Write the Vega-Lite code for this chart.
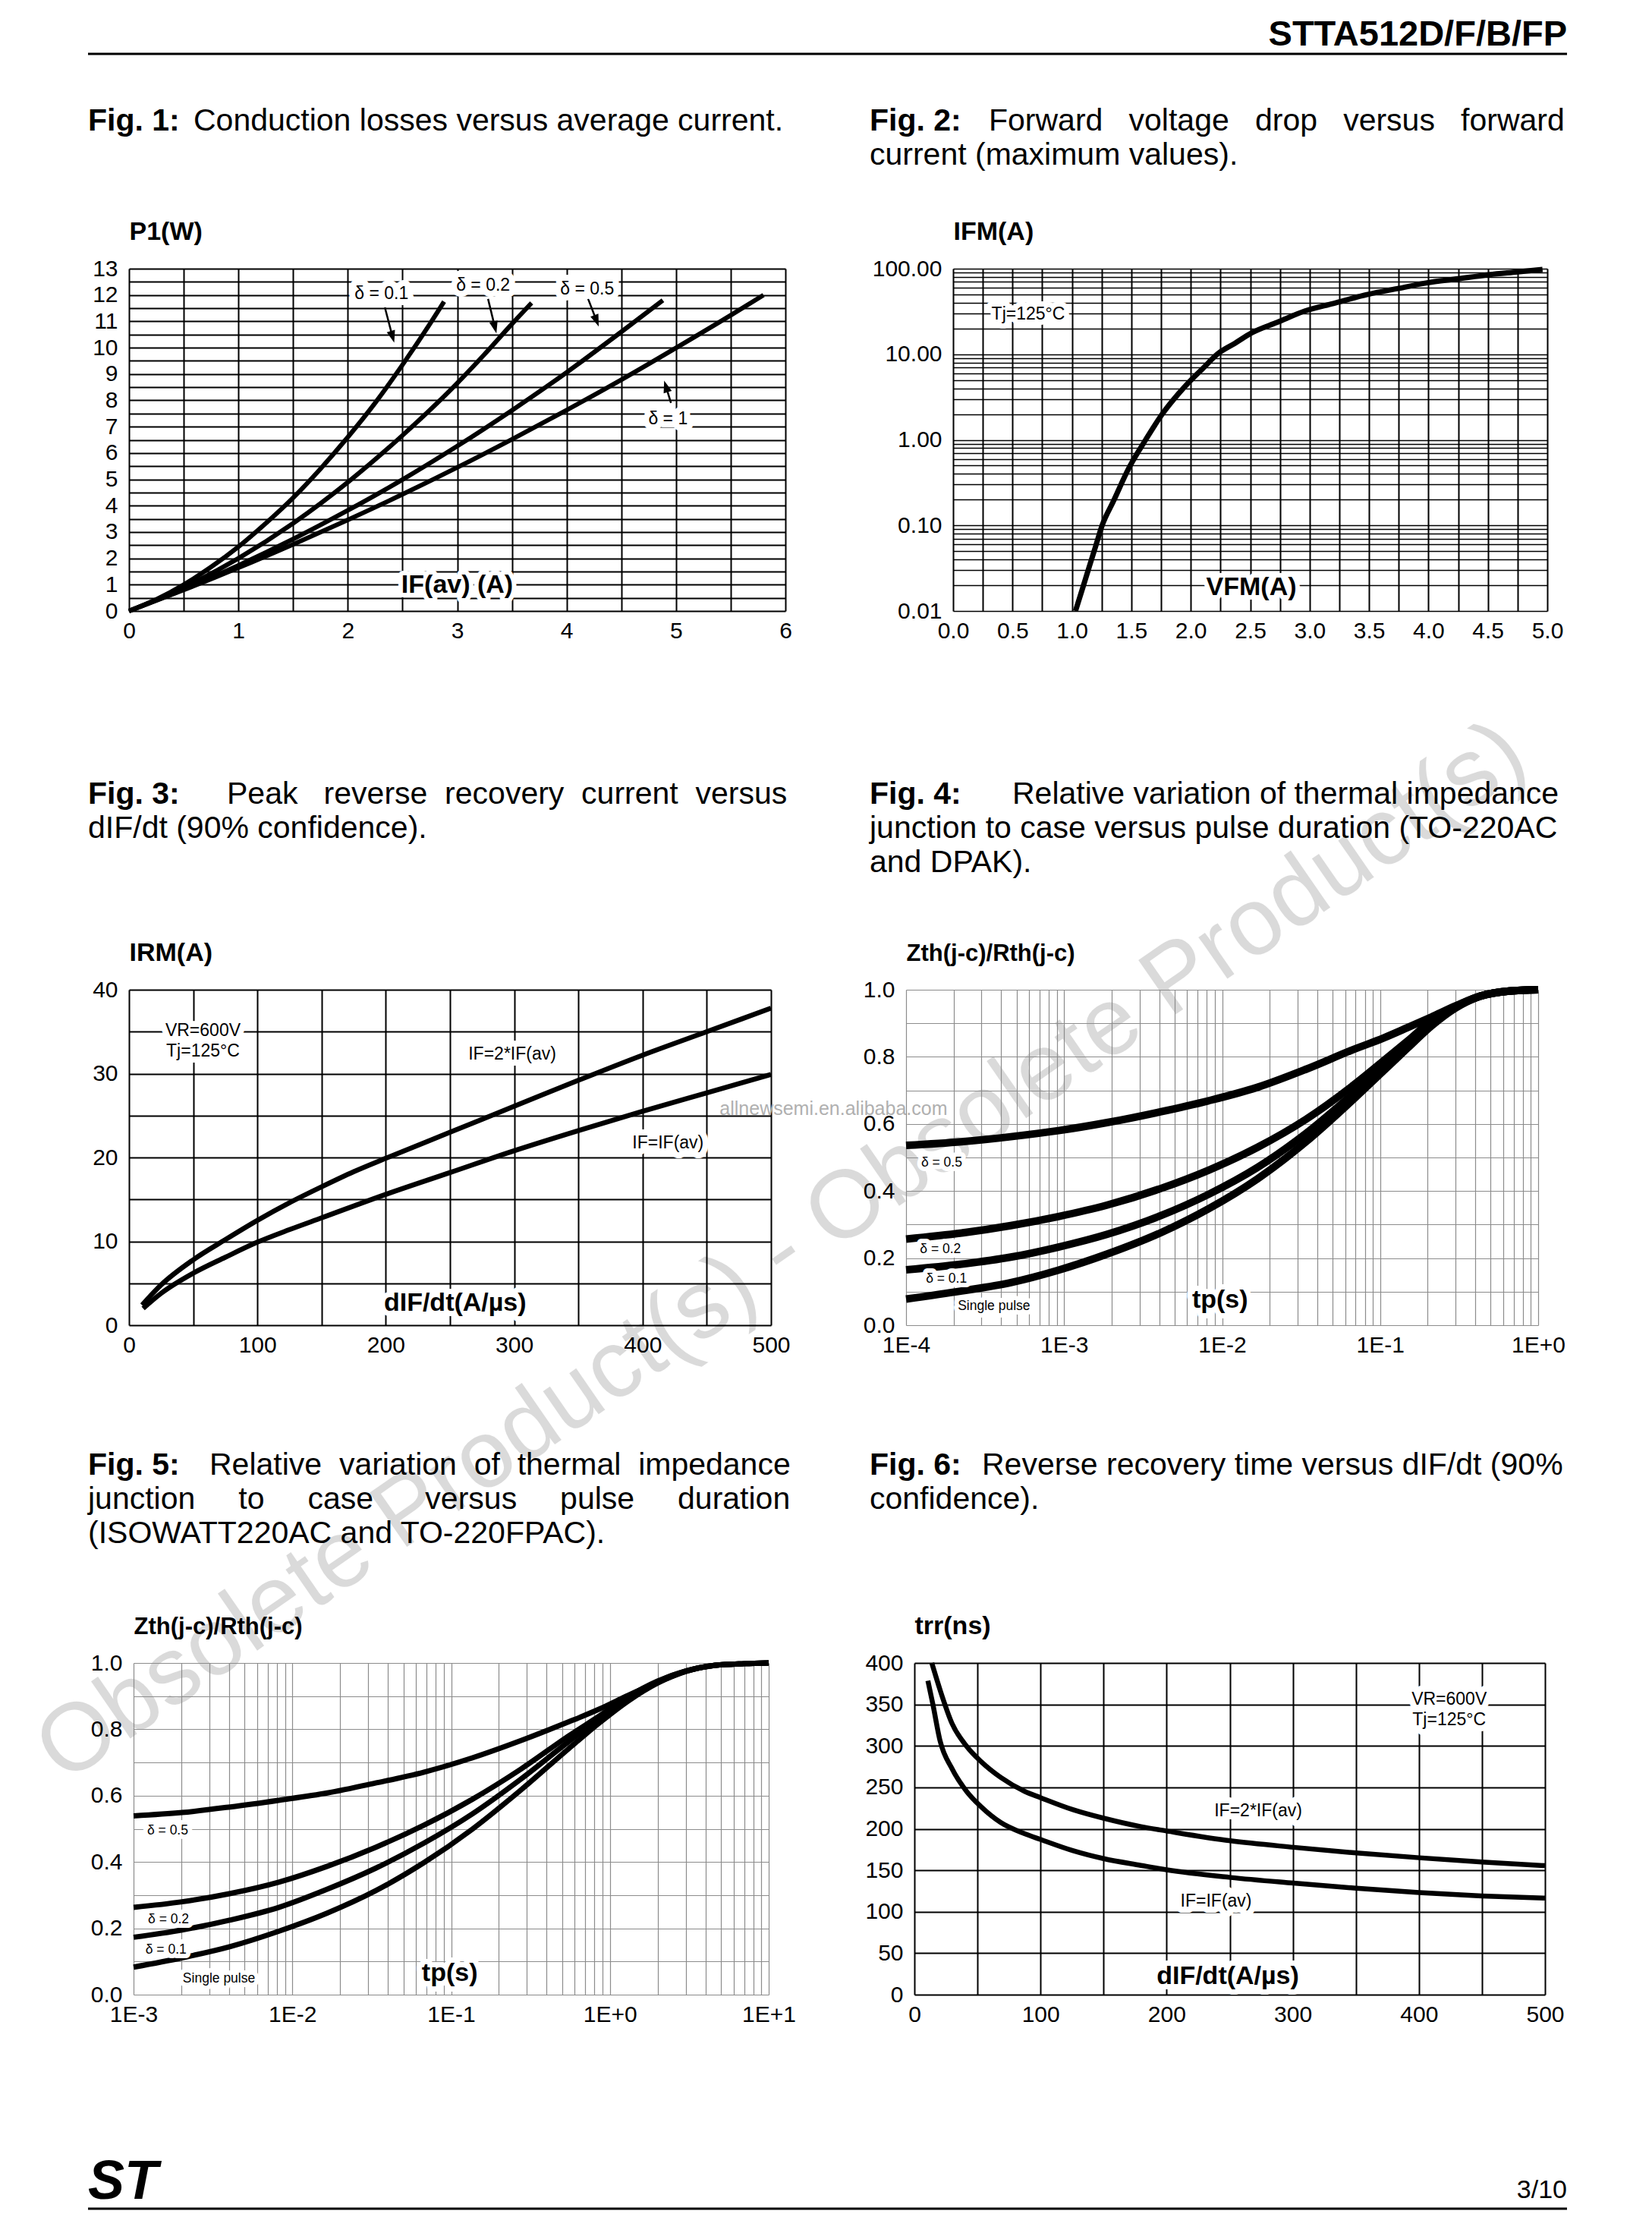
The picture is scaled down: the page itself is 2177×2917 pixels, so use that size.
{
"$schema": "https://vega.github.io/schema/vega-lite/v6.json",
"background": "white",
"padding": {"left": 26, "top": 0, "right": 0, "bottom": 0},
"columns": 4,
"spacing": 0,
"bounds": "flush",
"align": "each",
"config": {
  "font": "Liberation Sans",
  "view": {"stroke": null},
  "axis": {"ticks": false, "tickSize": 0, "domain": false, "grid": true, "gridColor": "black", "gridWidth": 2, "gridOpacity": 1, "labelFont": "Liberation Sans", "labelFontSize": 30, "labelColor": "black", "labelPadding": 11, "labelFlush": false, "labelOverlap": false, "labelBound": false, "titleFont": "Liberation Sans", "titleFontSize": 34, "titleFontWeight": "bold", "titleColor": "black"},
  "axisY": {"labelPadding": 15}
},
"datasets": {
  "f1curves": [
    {"d":"0.1","I":0,"P":0},{"d":"0.1","I":0.25,"P":0.44},{"d":"0.1","I":0.5,"P":1.0},{"d":"0.1","I":0.75,"P":1.67},{"d":"0.1","I":1,"P":2.44},{"d":"0.1","I":1.25,"P":3.33},{"d":"0.1","I":1.5,"P":4.3},{"d":"0.1","I":1.75,"P":5.4},{"d":"0.1","I":2,"P":6.6},{"d":"0.1","I":2.25,"P":7.9},{"d":"0.1","I":2.5,"P":9.35},{"d":"0.1","I":2.75,"P":10.9},{"d":"0.1","I":2.88,"P":11.75},
    {"d":"0.2","I":0,"P":0},{"d":"0.2","I":0.5,"P":0.89},{"d":"0.2","I":1,"P":2.0},{"d":"0.2","I":1.5,"P":3.33},{"d":"0.2","I":2,"P":4.89},{"d":"0.2","I":2.5,"P":6.67},{"d":"0.2","I":3,"P":8.65},{"d":"0.2","I":3.25,"P":9.75},{"d":"0.2","I":3.5,"P":10.9},{"d":"0.2","I":3.68,"P":11.7},
    {"d":"0.5","I":0,"P":0},{"d":"0.5","I":0.5,"P":0.82},{"d":"0.5","I":1,"P":1.73},{"d":"0.5","I":1.5,"P":2.73},{"d":"0.5","I":2,"P":3.82},{"d":"0.5","I":2.5,"P":4.99},{"d":"0.5","I":3,"P":6.26},{"d":"0.5","I":3.5,"P":7.62},{"d":"0.5","I":4,"P":9.06},{"d":"0.5","I":4.5,"P":10.6},{"d":"0.5","I":4.88,"P":11.8},
    {"d":"1","I":0,"P":0},{"d":"1","I":0.5,"P":0.8},{"d":"1","I":1,"P":1.64},{"d":"1","I":1.5,"P":2.53},{"d":"1","I":2,"P":3.46},{"d":"1","I":2.5,"P":4.43},{"d":"1","I":3,"P":5.45},{"d":"1","I":3.5,"P":6.52},{"d":"1","I":4,"P":7.63},{"d":"1","I":4.5,"P":8.78},{"d":"1","I":5,"P":9.99},{"d":"1","I":5.5,"P":11.23},{"d":"1","I":5.8,"P":12.0}
  ],
  "f1labels": [
    {"I":2.308,"P":12.06,"label":"δ = 0.1"},{"I":3.237,"P":12.36,"label":"δ = 0.2"},{"I":4.188,"P":12.22,"label":"δ = 0.5"},{"I":4.927,"P":7.28,"label":"δ = 1"}
  ],
  "f1arrows": [
    {"I":2.339,"P":11.53,"I2":2.409,"P2":10.41},{"I":3.282,"P":11.85,"I2":3.345,"P2":10.77},{"I":4.197,"P":11.85,"I2":4.274,"P2":11.02},{"I":4.954,"P":7.9,"I2":4.908,"P2":8.53}
  ],
  "f2curve": [
    {"V":1.03,"I":0.01},{"V":1.1,"I":0.0205},{"V":1.15,"I":0.0344},{"V":1.2,"I":0.0574},{"V":1.254,"I":0.1},{"V":1.35,"I":0.193},{"V":1.48,"I":0.47},{"V":1.62,"I":1.0},{"V":1.76,"I":2.0},{"V":1.9,"I":3.5},{"V":1.99,"I":4.8},{"V":2.1,"I":6.8},{"V":2.23,"I":10.2},{"V":2.37,"I":13.4},{"V":2.52,"I":18},{"V":2.73,"I":23.7},{"V":2.96,"I":32},{"V":3.2,"I":39.2},{"V":3.49,"I":50},{"V":3.75,"I":58.9},{"V":3.98,"I":68},{"V":4.25,"I":76.2},{"V":4.51,"I":85},{"V":4.75,"I":91.6},{"V":4.96,"I":98}
  ],
  "f3curves": [
    {"c":"2IF","D":10.2,"I":2.4},{"c":"2IF","D":25,"I":4.8},{"c":"2IF","D":50,"I":7.8},{"c":"2IF","D":75,"I":10.2},{"c":"2IF","D":100,"I":12.5},{"c":"2IF","D":125,"I":14.6},{"c":"2IF","D":150,"I":16.5},{"c":"2IF","D":175,"I":18.3},{"c":"2IF","D":200,"I":19.9},{"c":"2IF","D":250,"I":23.0},{"c":"2IF","D":300,"I":26.1},{"c":"2IF","D":350,"I":29.2},{"c":"2IF","D":400,"I":32.2},{"c":"2IF","D":450,"I":35.0},{"c":"2IF","D":500,"I":37.8},
    {"c":"IF","D":11,"I":2.0},{"c":"IF","D":25,"I":3.8},{"c":"IF","D":50,"I":6.2},{"c":"IF","D":75,"I":8.1},{"c":"IF","D":100,"I":9.9},{"c":"IF","D":125,"I":11.4},{"c":"IF","D":150,"I":12.8},{"c":"IF","D":200,"I":15.6},{"c":"IF","D":250,"I":18.2},{"c":"IF","D":300,"I":20.8},{"c":"IF","D":350,"I":23.2},{"c":"IF","D":400,"I":25.5},{"c":"IF","D":450,"I":27.7},{"c":"IF","D":500,"I":29.9}
  ],
  "f3labels": [
    {"D":57.6,"I":35.15,"label":"VR=600V"},{"D":57.6,"I":32.7,"label":"Tj=125°C"},{"D":298.5,"I":32.3,"label":"IF=2*IF(av)"},{"D":419.8,"I":21.75,"label":"IF=IF(av)"}
  ],
  "f4curves": [
    {"s":"d05","t":0.0001,"z":0.536},{"s":"d05","t":0.000225,"z":0.547},{"s":"d05","t":0.00046,"z":0.562},{"s":"d05","t":0.00092,"z":0.58},{"s":"d05","t":0.00187,"z":0.604},{"s":"d05","t":0.00406,"z":0.636},{"s":"d05","t":0.0082,"z":0.669},{"s":"d05","t":0.0167,"z":0.709},{"s":"d05","t":0.034,"z":0.763},{"s":"d05","t":0.068,"z":0.822},{"s":"d05","t":0.105,"z":0.856},{"s":"d05","t":0.149,"z":0.887},{"s":"d05","t":0.212,"z":0.919},{"s":"d05","t":0.301,"z":0.952},{"s":"d05","t":0.43,"z":0.981},{"s":"d05","t":0.655,"z":0.996},{"s":"d05","t":1,"z":1.0},
    {"s":"d02","t":0.0001,"z":0.257},{"s":"d02","t":0.000225,"z":0.275},{"s":"d02","t":0.00046,"z":0.297},{"s":"d02","t":0.00092,"z":0.324},{"s":"d02","t":0.00187,"z":0.358},{"s":"d02","t":0.00406,"z":0.407},{"s":"d02","t":0.0082,"z":0.462},{"s":"d02","t":0.0167,"z":0.53},{"s":"d02","t":0.034,"z":0.614},{"s":"d02","t":0.068,"z":0.716},{"s":"d02","t":0.105,"z":0.788},{"s":"d02","t":0.149,"z":0.847},{"s":"d02","t":0.212,"z":0.908},{"s":"d02","t":0.301,"z":0.95},{"s":"d02","t":0.43,"z":0.981},{"s":"d02","t":0.655,"z":0.996},{"s":"d02","t":1,"z":1.0},
    {"s":"d01","t":0.0001,"z":0.165},{"s":"d01","t":0.000225,"z":0.182},{"s":"d01","t":0.00046,"z":0.203},{"s":"d01","t":0.00092,"z":0.233},{"s":"d01","t":0.00187,"z":0.271},{"s":"d01","t":0.00406,"z":0.326},{"s":"d01","t":0.0082,"z":0.39},{"s":"d01","t":0.0167,"z":0.47},{"s":"d01","t":0.034,"z":0.572},{"s":"d01","t":0.068,"z":0.691},{"s":"d01","t":0.105,"z":0.767},{"s":"d01","t":0.149,"z":0.835},{"s":"d01","t":0.212,"z":0.9},{"s":"d01","t":0.301,"z":0.948},{"s":"d01","t":0.43,"z":0.981},{"s":"d01","t":0.655,"z":0.996},{"s":"d01","t":1,"z":1.0},
    {"s":"sp","t":0.0001,"z":0.078},{"s":"sp","t":0.000225,"z":0.102},{"s":"sp","t":0.00046,"z":0.127},{"s":"sp","t":0.00092,"z":0.164},{"s":"sp","t":0.00187,"z":0.212},{"s":"sp","t":0.00406,"z":0.275},{"s":"sp","t":0.0082,"z":0.347},{"s":"sp","t":0.0167,"z":0.436},{"s":"sp","t":0.034,"z":0.547},{"s":"sp","t":0.068,"z":0.674},{"s":"sp","t":0.105,"z":0.758},{"s":"sp","t":0.149,"z":0.826},{"s":"sp","t":0.212,"z":0.893},{"s":"sp","t":0.301,"z":0.946},{"s":"sp","t":0.43,"z":0.981},{"s":"sp","t":0.655,"z":0.996},{"s":"sp","t":1,"z":1.0}
  ],
  "f4labels": [
    {"t":0.000168,"z":0.484,"label":"δ = 0.5"},{"t":0.000165,"z":0.227,"label":"δ = 0.2"},{"t":0.00018,"z":0.138,"label":"δ = 0.1"},{"t":0.00036,"z":0.057,"label":"Single pulse"}
  ],
  "f5curves": [
    {"s":"d05","t":0.001,"z":0.539},{"s":"d05","t":0.00202,"z":0.549},{"s":"d05","t":0.00407,"z":0.566},{"s":"d05","t":0.0082,"z":0.586},{"s":"d05","t":0.0166,"z":0.608},{"s":"d05","t":0.0334,"z":0.638},{"s":"d05","t":0.0675,"z":0.671},{"s":"d05","t":0.136,"z":0.714},{"s":"d05","t":0.275,"z":0.766},{"s":"d05","t":0.554,"z":0.823},{"s":"d05","t":0.857,"z":0.861},{"s":"d05","t":1.31,"z":0.903},{"s":"d05","t":1.99,"z":0.941},{"s":"d05","t":3.03,"z":0.975},{"s":"d05","t":4.62,"z":0.993},{"s":"d05","t":7.04,"z":0.998},{"s":"d05","t":10,"z":1.0},
    {"s":"d02","t":0.001,"z":0.263},{"s":"d02","t":0.00202,"z":0.28},{"s":"d02","t":0.00407,"z":0.305},{"s":"d02","t":0.0082,"z":0.339},{"s":"d02","t":0.0166,"z":0.387},{"s":"d02","t":0.0334,"z":0.444},{"s":"d02","t":0.0675,"z":0.511},{"s":"d02","t":0.136,"z":0.589},{"s":"d02","t":0.275,"z":0.68},{"s":"d02","t":0.554,"z":0.781},{"s":"d02","t":0.857,"z":0.84},{"s":"d02","t":1.31,"z":0.899},{"s":"d02","t":1.99,"z":0.945},{"s":"d02","t":3.03,"z":0.976},{"s":"d02","t":4.62,"z":0.993},{"s":"d02","t":7.04,"z":0.998},{"s":"d02","t":10,"z":1.0},
    {"s":"d01","t":0.001,"z":0.173},{"s":"d01","t":0.00202,"z":0.195},{"s":"d01","t":0.00407,"z":0.225},{"s":"d01","t":0.0082,"z":0.263},{"s":"d01","t":0.0166,"z":0.318},{"s":"d01","t":0.0334,"z":0.381},{"s":"d01","t":0.0675,"z":0.457},{"s":"d01","t":0.136,"z":0.545},{"s":"d01","t":0.275,"z":0.65},{"s":"d01","t":0.554,"z":0.764},{"s":"d01","t":0.857,"z":0.832},{"s":"d01","t":1.31,"z":0.892},{"s":"d01","t":1.99,"z":0.943},{"s":"d01","t":3.03,"z":0.976},{"s":"d01","t":4.62,"z":0.993},{"s":"d01","t":7.04,"z":0.998},{"s":"d01","t":10,"z":1.0},
    {"s":"sp","t":0.001,"z":0.083},{"s":"sp","t":0.00202,"z":0.111},{"s":"sp","t":0.00407,"z":0.145},{"s":"sp","t":0.0082,"z":0.191},{"s":"sp","t":0.0166,"z":0.246},{"s":"sp","t":0.0334,"z":0.313},{"s":"sp","t":0.0675,"z":0.398},{"s":"sp","t":0.136,"z":0.499},{"s":"sp","t":0.275,"z":0.617},{"s":"sp","t":0.554,"z":0.743},{"s":"sp","t":0.857,"z":0.819},{"s":"sp","t":1.31,"z":0.886},{"s":"sp","t":1.99,"z":0.939},{"s":"sp","t":3.03,"z":0.975},{"s":"sp","t":4.62,"z":0.993},{"s":"sp","t":7.04,"z":0.998},{"s":"sp","t":10,"z":1.0}
  ],
  "f5labels": [
    {"t":0.00164,"z":0.494,"label":"δ = 0.5"},{"t":0.00166,"z":0.227,"label":"δ = 0.2"},{"t":0.0016,"z":0.136,"label":"δ = 0.1"},{"t":0.00345,"z":0.049,"label":"Single pulse"}
  ],
  "f6curves": [
    {"c":"2IF","D":13.8,"T":400},{"c":"2IF","D":20.3,"T":367.7},{"c":"2IF","D":29.9,"T":326.8},{"c":"2IF","D":41.4,"T":299.6},{"c":"2IF","D":53,"T":280.9},{"c":"2IF","D":68.3,"T":262.1},{"c":"2IF","D":87.5,"T":245.1},{"c":"2IF","D":100,"T":237.6},{"c":"2IF","D":125.9,"T":223},{"c":"2IF","D":150,"T":212.8},{"c":"2IF","D":179.6,"T":202.6},{"c":"2IF","D":200,"T":197.4},{"c":"2IF","D":250.6,"T":185.5},{"c":"2IF","D":300.5,"T":177.7},{"c":"2IF","D":350.3,"T":170.9},{"c":"2IF","D":400.2,"T":165.1},{"c":"2IF","D":450,"T":160},{"c":"2IF","D":500,"T":155.6},
    {"c":"IF","D":10.7,"T":378.6},{"c":"IF","D":14.6,"T":350.6},{"c":"IF","D":20.3,"T":306.4},{"c":"IF","D":29.9,"T":272.3},{"c":"IF","D":41.4,"T":245.1},{"c":"IF","D":53,"T":226.4},{"c":"IF","D":68.3,"T":207.7},{"c":"IF","D":87.5,"T":194},{"c":"IF","D":100,"T":187.2},{"c":"IF","D":125.9,"T":173.6},{"c":"IF","D":150,"T":164.1},{"c":"IF","D":179.6,"T":155.9},{"c":"IF","D":200,"T":150.5},{"c":"IF","D":250.6,"T":141.3},{"c":"IF","D":300.5,"T":134.5},{"c":"IF","D":350.3,"T":128.3},{"c":"IF","D":400.2,"T":123.2},{"c":"IF","D":450,"T":119.1},{"c":"IF","D":500,"T":116.4}
  ],
  "f6labels": [
    {"D":424,"T":356.5,"label":"VR=600V"},{"D":424,"T":331.4,"label":"Tj=125°C"},{"D":272.6,"T":221.1,"label":"IF=2*IF(av)"},{"D":239.2,"T":112.8,"label":"IF=IF(av)"}
  ]
},
"concat": [
  {"width": 54, "height": 71, "layer": [
    {"data": {"values": [{"a": 0, "b": 1}]}, "mark": {"type": "rule", "color": "black", "strokeWidth": 3}, "encoding": {"x": {"field": "a", "type": "quantitative", "scale": {"domain": [0, 1], "range": [0, 1949]}, "axis": null}, "x2": {"field": "b"}, "y": {"datum": 0, "type": "quantitative", "scale": {"domain": [0, 1]}, "axis": null}}},
    {"data": {"values": [{"t": "STTA512D/F/B/FP"}]}, "mark": {"type": "text", "align": "right", "baseline": "alphabetic", "fontSize": 47, "fontWeight": "bold", "color": "black", "dy": -11}, "encoding": {"x": {"datum": 1, "type": "quantitative", "scale": {"domain": [0, 1], "range": [0, 1949]}, "axis": null}, "y": {"datum": 0, "type": "quantitative", "scale": {"domain": [0, 1]}, "axis": null}, "text": {"field": "t"}}}
  ]},
  {"width": 865, "height": 71, "data": {"values": []}, "mark": "point", "encoding": {}},
  {"width": 159, "height": 71, "data": {"values": []}, "mark": "point", "encoding": {}},
  {"width": 845, "height": 71, "data": {"values": []}, "mark": "point", "encoding": {}},

  {"width": 54, "height": 67, "data": {"values": []}, "mark": "point", "encoding": {}},
  {"width": 865, "height": 67, "data": {"values": []}, "mark": "point", "encoding": {}},
  {"width": 159, "height": 67, "data": {"values": []}, "mark": "point", "encoding": {}},
  {"width": 845, "height": 67, "data": {"values": []}, "mark": "point", "encoding": {}},

  {"width": 54, "height": 134, "layer": [
    {"data": {"values": [{"line": 1, "text": "Fig. 1:"}]}, "mark": {"type": "text", "align": "left", "baseline": "middle", "fontSize": 41, "fontWeight": "bold", "color": "black"}, "encoding": {"x": {"datum": 0, "type": "quantitative", "scale": {"domain": [0, 1]}, "axis": null}, "y": {"field": "line", "type": "ordinal", "scale": {"domain": [1, 2, 3]}, "axis": null}, "text": {"field": "text"}}},
    {"data": {"values": [{"line": 1, "text": "Conduction losses versus average current."}]}, "mark": {"type": "text", "align": "left", "baseline": "middle", "fontSize": 41, "color": "black", "dx": 139}, "encoding": {"x": {"datum": 0, "type": "quantitative", "scale": {"domain": [0, 1]}, "axis": null}, "y": {"field": "line", "type": "ordinal", "scale": {"domain": [1, 2, 3]}, "axis": null}, "text": {"field": "text"}}}
  ]},
  {"width": 865, "height": 134, "data": {"values": []}, "mark": "point", "encoding": {}},
  {"width": 159, "height": 134, "layer": [
    {"data": {"values": [{"line": 1, "text": "Fig. 2:"}]}, "mark": {"type": "text", "align": "left", "baseline": "middle", "fontSize": 41, "fontWeight": "bold", "color": "black", "dx": 111}, "encoding": {"x": {"datum": 0, "type": "quantitative", "scale": {"domain": [0, 1]}, "axis": null}, "y": {"field": "line", "type": "ordinal", "scale": {"domain": [1, 2, 3]}, "axis": null}, "text": {"field": "text"}}},
    {"data": {"values": [{"line": 1, "text": "Forward \u00a0\u00a0voltage \u00a0\u00a0drop \u00a0\u00a0versus \u00a0\u00a0forward"}]}, "mark": {"type": "text", "align": "left", "baseline": "middle", "fontSize": 41, "color": "black", "dx": 268}, "encoding": {"x": {"datum": 0, "type": "quantitative", "scale": {"domain": [0, 1]}, "axis": null}, "y": {"field": "line", "type": "ordinal", "scale": {"domain": [1, 2, 3]}, "axis": null}, "text": {"field": "text"}}},
    {"data": {"values": [{"line": 2, "text": "current (maximum values)."}]}, "mark": {"type": "text", "align": "left", "baseline": "middle", "fontSize": 41, "color": "black", "dx": 111}, "encoding": {"x": {"datum": 0, "type": "quantitative", "scale": {"domain": [0, 1]}, "axis": null}, "y": {"field": "line", "type": "ordinal", "scale": {"domain": [1, 2, 3]}, "axis": null}, "text": {"field": "text"}}}
  ]},
  {"width": 845, "height": 134, "data": {"values": []}, "mark": "point", "encoding": {}},

  {"width": 54, "height": 82, "data": {"values": []}, "mark": "point", "encoding": {}},
  {"width": 865, "height": 82, "data": {"values": []}, "mark": "point", "encoding": {}},
  {"width": 159, "height": 82, "data": {"values": []}, "mark": "point", "encoding": {}},
  {"width": 845, "height": 82, "data": {"values": []}, "mark": "point", "encoding": {}},

  {"width": 54, "height": 451, "data": {"values": []}, "mark": "point", "encoding": {}},
  {"width": 865, "height": 451,
   "resolve": {"axis": {"x": "independent", "y": "independent"}},
   "layer": [
    {"data": {"name": "f1curves"}, "mark": {"type": "line", "color": "black", "strokeWidth": 6, "interpolate": "monotone"},
     "encoding": {
       "x": {"field": "I", "type": "quantitative", "scale": {"domain": [0, 6], "nice": false, "zero": false}, "axis": {"values": [0,0.5,1,1.5,2,2.5,3,3.5,4,4.5,5,5.5,6], "labelExpr": "round(datum.value*2) % 2 == 0 ? format(datum.value, 'd') : ''", "labelOverlap": false, "title": null, "zindex": 0}},
       "y": {"field": "P", "type": "quantitative", "scale": {"domain": [0, 13], "nice": false, "zero": false}, "axis": {"values": [0,0.5,1,1.5,2,2.5,3,3.5,4,4.5,5,5.5,6,6.5,7,7.5,8,8.5,9,9.5,10,10.5,11,11.5,12,12.5,13], "labelExpr": "round(datum.value*2) % 2 == 0 ? format(datum.value, 'd') : ''", "labelOverlap": false, "title": "P1(W)", "titleAngle": 0, "titleAlign": "left", "titleBaseline": "alphabetic", "titleX": 0, "titleY": -39, "zindex": 0}},
       "detail": {"field": "d"}}},
    {"data": {"name": "f1arrows"}, "mark": {"type": "rule", "color": "black", "strokeWidth": 2.5},
     "encoding": {"x": {"field": "I", "type": "quantitative", "scale": {"domain": [0, 6], "nice": false, "zero": false}, "axis": null}, "y": {"field": "P", "type": "quantitative", "scale": {"domain": [0, 13], "nice": false, "zero": false}, "axis": null}, "x2": {"field": "I2"}, "y2": {"field": "P2"}}},
    {"data": {"values": [{"I": 2.409, "P": 10.41}]}, "mark": {"type": "point", "shape": "M-0.7,-1L0.7,-1L0,1Z", "filled": true, "color": "black", "opacity": 1, "size": 256, "angle": 344},
     "encoding": {"x": {"field": "I", "type": "quantitative", "scale": {"domain": [0, 6], "nice": false, "zero": false}, "axis": null}, "y": {"field": "P", "type": "quantitative", "scale": {"domain": [0, 13], "nice": false, "zero": false}, "axis": null}}},
    {"data": {"values": [{"I": 3.345, "P": 10.77}]}, "mark": {"type": "point", "shape": "M-0.7,-1L0.7,-1L0,1Z", "filled": true, "color": "black", "opacity": 1, "size": 256, "angle": 346},
     "encoding": {"x": {"field": "I", "type": "quantitative", "scale": {"domain": [0, 6], "nice": false, "zero": false}, "axis": null}, "y": {"field": "P", "type": "quantitative", "scale": {"domain": [0, 13], "nice": false, "zero": false}, "axis": null}}},
    {"data": {"values": [{"I": 4.274, "P": 11.02}]}, "mark": {"type": "point", "shape": "M-0.7,-1L0.7,-1L0,1Z", "filled": true, "color": "black", "opacity": 1, "size": 256, "angle": 339},
     "encoding": {"x": {"field": "I", "type": "quantitative", "scale": {"domain": [0, 6], "nice": false, "zero": false}, "axis": null}, "y": {"field": "P", "type": "quantitative", "scale": {"domain": [0, 13], "nice": false, "zero": false}, "axis": null}}},
    {"data": {"values": [{"I": 4.908, "P": 8.53}]}, "mark": {"type": "point", "shape": "M-0.7,-1L0.7,-1L0,1Z", "filled": true, "color": "black", "opacity": 1, "size": 256, "angle": 163},
     "encoding": {"x": {"field": "I", "type": "quantitative", "scale": {"domain": [0, 6], "nice": false, "zero": false}, "axis": null}, "y": {"field": "P", "type": "quantitative", "scale": {"domain": [0, 13], "nice": false, "zero": false}, "axis": null}}},
    {"data": {"name": "f1labels"}, "mark": {"type": "text", "align": "center", "baseline": "middle", "fontSize": 23, "color": "white", "stroke": "white", "strokeWidth": 16, "strokeJoin": "round"},
     "encoding": {"x": {"field": "I", "type": "quantitative", "scale": {"domain": [0, 6], "nice": false, "zero": false}, "axis": null}, "y": {"field": "P", "type": "quantitative", "scale": {"domain": [0, 13], "nice": false, "zero": false}, "axis": null}, "text": {"field": "label"}}},
    {"data": {"name": "f1labels"}, "mark": {"type": "text", "align": "center", "baseline": "middle", "fontSize": 23, "color": "black"},
     "encoding": {"x": {"field": "I", "type": "quantitative", "scale": {"domain": [0, 6], "nice": false, "zero": false}, "axis": null}, "y": {"field": "P", "type": "quantitative", "scale": {"domain": [0, 13], "nice": false, "zero": false}, "axis": null}, "text": {"field": "label"}}},
    {"data": {"values": [{"I": 3.0, "P": 0.99, "label": "IF(av) (A)"}]}, "mark": {"type": "text", "align": "center", "baseline": "middle", "fontSize": 34, "fontWeight": "bold", "color": "white", "stroke": "white", "strokeWidth": 12, "strokeJoin": "round"},
     "encoding": {"x": {"field": "I", "type": "quantitative", "scale": {"domain": [0, 6], "nice": false, "zero": false}, "axis": null}, "y": {"field": "P", "type": "quantitative", "scale": {"domain": [0, 13], "nice": false, "zero": false}, "axis": null}, "text": {"field": "label"}}},
    {"data": {"values": [{"I": 3.0, "P": 0.99, "label": "IF(av) (A)"}]}, "mark": {"type": "text", "align": "center", "baseline": "middle", "fontSize": 34, "fontWeight": "bold", "color": "black"},
     "encoding": {"x": {"field": "I", "type": "quantitative", "scale": {"domain": [0, 6], "nice": false, "zero": false}, "axis": null}, "y": {"field": "P", "type": "quantitative", "scale": {"domain": [0, 13], "nice": false, "zero": false}, "axis": null}, "text": {"field": "label"}}}
  ]},
  {"width": 159, "height": 451, "data": {"values": []}, "mark": "point", "encoding": {}},
  {"width": 845, "height": 451, "layer": [
    {"data": {"name": "f2curve"}, "mark": {"type": "line", "color": "black", "strokeWidth": 7, "interpolate": "monotone"},
     "encoding": {
       "x": {"field": "V", "type": "quantitative", "scale": {"domain": [0, 5], "nice": false, "zero": false, "range": [62, 845]}, "axis": {"values": [0,0.25,0.5,0.75,1,1.25,1.5,1.75,2,2.25,2.5,2.75,3,3.25,3.5,3.75,4,4.25,4.5,4.75,5], "labelExpr": "round(datum.value*4) % 2 == 0 ? format(datum.value, '.1f') : ''", "labelOverlap": false, "title": null}},
       "y": {"field": "I", "type": "quantitative", "scale": {"type": "log", "domain": [0.01, 100], "nice": false}, "axis": {"values": [0.01,0.02,0.03,0.04,0.05,0.06,0.07,0.08,0.09,0.1,0.2,0.3,0.4,0.5,0.6,0.7,0.8,0.9,1,2,3,4,5,6,7,8,9,10,20,30,40,50,60,70,80,90,100], "labelExpr": "abs(log(datum.value)/LN10 - round(log(datum.value)/LN10)) < 0.001 ? format(datum.value, '.2f') : ''", "labelOverlap": false, "labelPadding": -47, "title": "IFM(A)", "titleAngle": 0, "titleAlign": "left", "titleBaseline": "alphabetic", "titleX": 62, "titleY": -39, "gridWidth": 1.6}}}},
    {"data": {"values": [{"V": 0.632, "I": 29.2, "label": "Tj=125°C"}]}, "mark": {"type": "text", "align": "center", "baseline": "middle", "fontSize": 23, "color": "white", "stroke": "white", "strokeWidth": 14, "strokeJoin": "round"},
     "encoding": {"x": {"field": "V", "type": "quantitative", "scale": {"domain": [0, 5], "nice": false, "zero": false, "range": [62, 845]}}, "y": {"field": "I", "type": "quantitative", "scale": {"type": "log", "domain": [0.01, 100], "nice": false}}, "text": {"field": "label"}}},
    {"data": {"values": [{"V": 0.632, "I": 29.2, "label": "Tj=125°C"}]}, "mark": {"type": "text", "align": "center", "baseline": "middle", "fontSize": 23, "color": "black"},
     "encoding": {"x": {"field": "V", "type": "quantitative", "scale": {"domain": [0, 5], "nice": false, "zero": false, "range": [62, 845]}}, "y": {"field": "I", "type": "quantitative", "scale": {"type": "log", "domain": [0.01, 100], "nice": false}}, "text": {"field": "label"}}},
    {"data": {"values": [{"V": 2.51, "I": 0.019, "label": "VFM(A)"}]}, "mark": {"type": "text", "align": "center", "baseline": "middle", "fontSize": 34, "fontWeight": "bold", "color": "white", "stroke": "white", "strokeWidth": 12, "strokeJoin": "round"},
     "encoding": {"x": {"field": "V", "type": "quantitative", "scale": {"domain": [0, 5], "nice": false, "zero": false, "range": [62, 845]}}, "y": {"field": "I", "type": "quantitative", "scale": {"type": "log", "domain": [0.01, 100], "nice": false}}, "text": {"field": "label"}}},
    {"data": {"values": [{"V": 2.51, "I": 0.019, "label": "VFM(A)"}]}, "mark": {"type": "text", "align": "center", "baseline": "middle", "fontSize": 34, "fontWeight": "bold", "color": "black"},
     "encoding": {"x": {"field": "V", "type": "quantitative", "scale": {"domain": [0, 5], "nice": false, "zero": false, "range": [62, 845]}}, "y": {"field": "I", "type": "quantitative", "scale": {"type": "log", "domain": [0.01, 100], "nice": false}}, "text": {"field": "label"}}}
  ]},

  {"width": 54, "height": 220, "data": {"values": []}, "mark": "point", "encoding": {}},
  {"width": 865, "height": 220, "data": {"values": []}, "mark": "point", "encoding": {}},
  {"width": 159, "height": 220, "data": {"values": []}, "mark": "point", "encoding": {}},
  {"width": 845, "height": 220, "data": {"values": []}, "mark": "point", "encoding": {}},

  {"width": 54, "height": 134, "layer": [
    {"data": {"values": [{"line": 1, "text": "Fig. 3:"}]}, "mark": {"type": "text", "align": "left", "baseline": "middle", "fontSize": 41, "fontWeight": "bold", "color": "black"}, "encoding": {"x": {"datum": 0, "type": "quantitative", "scale": {"domain": [0, 1]}, "axis": null}, "y": {"field": "line", "type": "ordinal", "scale": {"domain": [1, 2, 3]}, "axis": null}, "text": {"field": "text"}}},
    {"data": {"values": [{"line": 1, "text": "Peak \u00a0\u00a0reverse \u00a0recovery \u00a0current \u00a0versus"}]}, "mark": {"type": "text", "align": "left", "baseline": "middle", "fontSize": 41, "color": "black", "dx": 183}, "encoding": {"x": {"datum": 0, "type": "quantitative", "scale": {"domain": [0, 1]}, "axis": null}, "y": {"field": "line", "type": "ordinal", "scale": {"domain": [1, 2, 3]}, "axis": null}, "text": {"field": "text"}}},
    {"data": {"values": [{"line": 2, "text": "dIF/dt (90% confidence)."}]}, "mark": {"type": "text", "align": "left", "baseline": "middle", "fontSize": 41, "color": "black"}, "encoding": {"x": {"datum": 0, "type": "quantitative", "scale": {"domain": [0, 1]}, "axis": null}, "y": {"field": "line", "type": "ordinal", "scale": {"domain": [1, 2, 3]}, "axis": null}, "text": {"field": "text"}}}
  ]},
  {"width": 865, "height": 134, "data": {"values": []}, "mark": "point", "encoding": {}},
  {"width": 159, "height": 134, "layer": [
    {"data": {"values": [{"line": 1, "text": "Fig. 4:"}]}, "mark": {"type": "text", "align": "left", "baseline": "middle", "fontSize": 41, "fontWeight": "bold", "color": "black", "dx": 111}, "encoding": {"x": {"datum": 0, "type": "quantitative", "scale": {"domain": [0, 1]}, "axis": null}, "y": {"field": "line", "type": "ordinal", "scale": {"domain": [1, 2, 3]}, "axis": null}, "text": {"field": "text"}}},
    {"data": {"values": [{"line": 1, "text": "Relative variation of thermal impedance"}]}, "mark": {"type": "text", "align": "left", "baseline": "middle", "fontSize": 41, "color": "black", "dx": 299}, "encoding": {"x": {"datum": 0, "type": "quantitative", "scale": {"domain": [0, 1]}, "axis": null}, "y": {"field": "line", "type": "ordinal", "scale": {"domain": [1, 2, 3]}, "axis": null}, "text": {"field": "text"}}},
    {"data": {"values": [{"line": 2, "text": "junction to case versus pulse duration (TO-220AC"}, {"line": 3, "text": "and DPAK)."}]}, "mark": {"type": "text", "align": "left", "baseline": "middle", "fontSize": 41, "color": "black", "dx": 111}, "encoding": {"x": {"datum": 0, "type": "quantitative", "scale": {"domain": [0, 1]}, "axis": null}, "y": {"field": "line", "type": "ordinal", "scale": {"domain": [1, 2, 3]}, "axis": null}, "text": {"field": "text"}}}
  ]},
  {"width": 845, "height": 134, "data": {"values": []}, "mark": "point", "encoding": {}},

  {"width": 54, "height": 145, "data": {"values": []}, "mark": "point", "encoding": {}},
  {"width": 865, "height": 145, "data": {"values": []}, "mark": "point", "encoding": {}},
  {"width": 159, "height": 145, "data": {"values": []}, "mark": "point", "encoding": {}},
  {"width": 845, "height": 145, "data": {"values": []}, "mark": "point", "encoding": {}},

  {"width": 54, "height": 442, "data": {"values": []}, "mark": "point", "encoding": {}},
  {"width": 865, "height": 442, "layer": [
    {"data": {"name": "f3curves"}, "mark": {"type": "line", "color": "black", "strokeWidth": 6.5, "interpolate": "monotone"},
     "encoding": {
       "x": {"field": "D", "type": "quantitative", "scale": {"domain": [0, 500], "nice": false, "zero": false, "range": [0, 846]}, "axis": {"values": [0,50,100,150,200,250,300,350,400,450,500], "labelExpr": "datum.value % 100 == 0 ? format(datum.value, 'd') : ''", "labelOverlap": false, "title": null}},
       "y": {"field": "I", "type": "quantitative", "scale": {"domain": [0, 40], "nice": false, "zero": false}, "axis": {"values": [0,5,10,15,20,25,30,35,40], "labelExpr": "datum.value % 10 == 0 ? format(datum.value, 'd') : ''", "labelOverlap": false, "title": "IRM(A)", "titleAngle": 0, "titleAlign": "left", "titleBaseline": "alphabetic", "titleX": 0, "titleY": -39}},
       "detail": {"field": "c"}}},
    {"data": {"values": [{"D": 508.3, "I": 8.69, "label": "Obsolete Product(s) - Obsolete Product(s)"}]}, "mark": {"type": "text", "align": "center", "baseline": "middle", "fontSize": 126, "angle": 325.3, "color": "black", "opacity": 0.14},
     "encoding": {"x": {"field": "D", "type": "quantitative", "scale": {"domain": [0, 500], "nice": false, "zero": false, "range": [0, 846]}}, "y": {"field": "I", "type": "quantitative", "scale": {"domain": [0, 40], "nice": false, "zero": false}}, "text": {"field": "label"}}},
    {"data": {"values": [{"D": 460, "I": 25.8, "label": "allnewsemi.en.alibaba.com"}]}, "mark": {"type": "text", "align": "left", "baseline": "middle", "fontSize": 25, "color": "#b0b0b0"},
     "encoding": {"x": {"field": "D", "type": "quantitative", "scale": {"domain": [0, 500], "nice": false, "zero": false, "range": [0, 846]}}, "y": {"field": "I", "type": "quantitative", "scale": {"domain": [0, 40], "nice": false, "zero": false}}, "text": {"field": "label"}}},
    {"data": {"name": "f3labels"}, "mark": {"type": "text", "align": "center", "baseline": "middle", "fontSize": 23, "color": "white", "stroke": "white", "strokeWidth": 16, "strokeJoin": "round"},
     "encoding": {"x": {"field": "D", "type": "quantitative", "scale": {"domain": [0, 500], "nice": false, "zero": false, "range": [0, 846]}}, "y": {"field": "I", "type": "quantitative", "scale": {"domain": [0, 40], "nice": false, "zero": false}}, "text": {"field": "label"}}},
    {"data": {"name": "f3labels"}, "mark": {"type": "text", "align": "center", "baseline": "middle", "fontSize": 23, "color": "black"},
     "encoding": {"x": {"field": "D", "type": "quantitative", "scale": {"domain": [0, 500], "nice": false, "zero": false, "range": [0, 846]}}, "y": {"field": "I", "type": "quantitative", "scale": {"domain": [0, 40], "nice": false, "zero": false}}, "text": {"field": "label"}}},
    {"data": {"values": [{"D": 254, "I": 2.62, "label": "dIF/dt(A/µs)"}]}, "mark": {"type": "text", "align": "center", "baseline": "middle", "fontSize": 34, "fontWeight": "bold", "color": "white", "stroke": "white", "strokeWidth": 14, "strokeJoin": "round"},
     "encoding": {"x": {"field": "D", "type": "quantitative", "scale": {"domain": [0, 500], "nice": false, "zero": false, "range": [0, 846]}}, "y": {"field": "I", "type": "quantitative", "scale": {"domain": [0, 40], "nice": false, "zero": false}}, "text": {"field": "label"}}},
    {"data": {"values": [{"D": 254, "I": 2.62, "label": "dIF/dt(A/µs)"}]}, "mark": {"type": "text", "align": "center", "baseline": "middle", "fontSize": 34, "fontWeight": "bold", "color": "black"},
     "encoding": {"x": {"field": "D", "type": "quantitative", "scale": {"domain": [0, 500], "nice": false, "zero": false, "range": [0, 846]}}, "y": {"field": "I", "type": "quantitative", "scale": {"domain": [0, 40], "nice": false, "zero": false}}, "text": {"field": "label"}}}
  ]},
  {"width": 159, "height": 442, "data": {"values": []}, "mark": "point", "encoding": {}},
  {"width": 845, "height": 442, "layer": [
    {"data": {"name": "f4curves"}, "mark": {"type": "line", "color": "black", "interpolate": "monotone"},
     "encoding": {
       "x": {"field": "t", "type": "quantitative", "scale": {"type": "log", "domain": [0.0001, 1], "nice": false, "range": [0, 833]}, "axis": {"values": [0.0001,0.0002,0.0003,0.0004,0.0005,0.0006,0.0007,0.0008,0.0009,0.001,0.002,0.003,0.004,0.005,0.006,0.007,0.008,0.009,0.01,0.02,0.03,0.04,0.05,0.06,0.07,0.08,0.09,0.1,0.2,0.3,0.4,0.5,0.6,0.7,0.8,0.9,1], "labelExpr": "abs(log(datum.value)/LN10 - round(log(datum.value)/LN10)) < 0.001 ? ('1E' + (round(log(datum.value)/LN10) >= 0 ? '+' : '') + round(log(datum.value)/LN10)) : ''", "labelOverlap": false, "title": null, "gridColor": "#8c8c8c", "gridWidth": 1.2}},
       "y": {"field": "z", "type": "quantitative", "scale": {"domain": [0, 1], "nice": false, "zero": false}, "axis": {"values": [0,0.1,0.2,0.3,0.4,0.5,0.6,0.7,0.8,0.9,1], "labelExpr": "round(datum.value*10) % 2 == 0 ? format(datum.value, '.1f') : ''", "labelOverlap": false, "title": "Zth(j-c)/Rth(j-c)", "titleFontSize": 31, "titleAngle": 0, "titleAlign": "left", "titleBaseline": "alphabetic", "titleX": 0, "titleY": -39, "gridColor": "#8c8c8c", "gridWidth": 1.2}},
       "detail": {"field": "s"},
       "strokeWidth": {"field": "s", "type": "nominal", "scale": {"domain": ["d05", "d02", "d01", "sp"], "range": [10, 10, 9, 6]}, "legend": null}}},
    {"data": {"name": "f4labels"}, "mark": {"type": "text", "align": "center", "baseline": "middle", "fontSize": 17.5, "color": "white", "stroke": "white", "strokeWidth": 12, "strokeJoin": "round"},
     "encoding": {"x": {"field": "t", "type": "quantitative", "scale": {"type": "log", "domain": [0.0001, 1], "nice": false, "range": [0, 833]}}, "y": {"field": "z", "type": "quantitative", "scale": {"domain": [0, 1], "nice": false, "zero": false}}, "text": {"field": "label"}}},
    {"data": {"name": "f4labels"}, "mark": {"type": "text", "align": "center", "baseline": "middle", "fontSize": 17.5, "color": "black"},
     "encoding": {"x": {"field": "t", "type": "quantitative", "scale": {"type": "log", "domain": [0.0001, 1], "nice": false, "range": [0, 833]}}, "y": {"field": "z", "type": "quantitative", "scale": {"domain": [0, 1], "nice": false, "zero": false}}, "text": {"field": "label"}}},
    {"data": {"values": [{"t": 0.0097, "z": 0.075, "label": "tp(s)"}]}, "mark": {"type": "text", "align": "center", "baseline": "middle", "fontSize": 34, "fontWeight": "bold", "color": "white", "stroke": "white", "strokeWidth": 14, "strokeJoin": "round"},
     "encoding": {"x": {"field": "t", "type": "quantitative", "scale": {"type": "log", "domain": [0.0001, 1], "nice": false, "range": [0, 833]}}, "y": {"field": "z", "type": "quantitative", "scale": {"domain": [0, 1], "nice": false, "zero": false}}, "text": {"field": "label"}}},
    {"data": {"values": [{"t": 0.0097, "z": 0.075, "label": "tp(s)"}]}, "mark": {"type": "text", "align": "center", "baseline": "middle", "fontSize": 34, "fontWeight": "bold", "color": "black"},
     "encoding": {"x": {"field": "t", "type": "quantitative", "scale": {"type": "log", "domain": [0.0001, 1], "nice": false, "range": [0, 833]}}, "y": {"field": "z", "type": "quantitative", "scale": {"domain": [0, 1], "nice": false, "zero": false}}, "text": {"field": "label"}}}
  ]},

  {"width": 54, "height": 163, "data": {"values": []}, "mark": "point", "encoding": {}},
  {"width": 865, "height": 163, "data": {"values": []}, "mark": "point", "encoding": {}},
  {"width": 159, "height": 163, "data": {"values": []}, "mark": "point", "encoding": {}},
  {"width": 845, "height": 163, "data": {"values": []}, "mark": "point", "encoding": {}},

  {"width": 54, "height": 134, "layer": [
    {"data": {"values": [{"line": 1, "text": "Fig. 5:"}]}, "mark": {"type": "text", "align": "left", "baseline": "middle", "fontSize": 41, "fontWeight": "bold", "color": "black"}, "encoding": {"x": {"datum": 0, "type": "quantitative", "scale": {"domain": [0, 1]}, "axis": null}, "y": {"field": "line", "type": "ordinal", "scale": {"domain": [1, 2, 3]}, "axis": null}, "text": {"field": "text"}}},
    {"data": {"values": [{"line": 1, "text": "Relative \u00a0variation \u00a0of \u00a0thermal \u00a0impedance"}]}, "mark": {"type": "text", "align": "left", "baseline": "middle", "fontSize": 41, "color": "black", "dx": 160}, "encoding": {"x": {"datum": 0, "type": "quantitative", "scale": {"domain": [0, 1]}, "axis": null}, "y": {"field": "line", "type": "ordinal", "scale": {"domain": [1, 2, 3]}, "axis": null}, "text": {"field": "text"}}},
    {"data": {"values": [{"line": 2, "text": "junction \u00a0\u00a0\u00a0\u00a0to \u00a0\u00a0\u00a0\u00a0case \u00a0\u00a0\u00a0\u00a0\u00a0versus \u00a0\u00a0\u00a0\u00a0pulse \u00a0\u00a0\u00a0\u00a0duration"}, {"line": 3, "text": "(ISOWATT220AC and TO-220FPAC)."}]}, "mark": {"type": "text", "align": "left", "baseline": "middle", "fontSize": 41, "color": "black"}, "encoding": {"x": {"datum": 0, "type": "quantitative", "scale": {"domain": [0, 1]}, "axis": null}, "y": {"field": "line", "type": "ordinal", "scale": {"domain": [1, 2, 3]}, "axis": null}, "text": {"field": "text"}}}
  ]},
  {"width": 865, "height": 134, "data": {"values": []}, "mark": "point", "encoding": {}},
  {"width": 159, "height": 134, "layer": [
    {"data": {"values": [{"line": 1, "text": "Fig. 6:"}]}, "mark": {"type": "text", "align": "left", "baseline": "middle", "fontSize": 41, "fontWeight": "bold", "color": "black", "dx": 111}, "encoding": {"x": {"datum": 0, "type": "quantitative", "scale": {"domain": [0, 1]}, "axis": null}, "y": {"field": "line", "type": "ordinal", "scale": {"domain": [1, 2, 3]}, "axis": null}, "text": {"field": "text"}}},
    {"data": {"values": [{"line": 1, "text": "Reverse recovery time versus dIF/dt (90%"}]}, "mark": {"type": "text", "align": "left", "baseline": "middle", "fontSize": 41, "color": "black", "dx": 259}, "encoding": {"x": {"datum": 0, "type": "quantitative", "scale": {"domain": [0, 1]}, "axis": null}, "y": {"field": "line", "type": "ordinal", "scale": {"domain": [1, 2, 3]}, "axis": null}, "text": {"field": "text"}}},
    {"data": {"values": [{"line": 2, "text": "confidence)."}]}, "mark": {"type": "text", "align": "left", "baseline": "middle", "fontSize": 41, "color": "black", "dx": 111}, "encoding": {"x": {"datum": 0, "type": "quantitative", "scale": {"domain": [0, 1]}, "axis": null}, "y": {"field": "line", "type": "ordinal", "scale": {"domain": [1, 2, 3]}, "axis": null}, "text": {"field": "text"}}}
  ]},
  {"width": 845, "height": 134, "data": {"values": []}, "mark": "point", "encoding": {}},

  {"width": 54, "height": 148, "data": {"values": []}, "mark": "point", "encoding": {}},
  {"width": 865, "height": 148, "data": {"values": []}, "mark": "point", "encoding": {}},
  {"width": 159, "height": 148, "data": {"values": []}, "mark": "point", "encoding": {}},
  {"width": 845, "height": 148, "data": {"values": []}, "mark": "point", "encoding": {}},

  {"width": 54, "height": 437, "data": {"values": []}, "mark": "point", "encoding": {}},
  {"width": 865, "height": 437, "layer": [
    {"data": {"name": "f5curves"}, "mark": {"type": "line", "color": "black", "strokeWidth": 7, "interpolate": "monotone"},
     "encoding": {
       "x": {"field": "t", "type": "quantitative", "scale": {"type": "log", "domain": [0.001, 10], "nice": false, "range": [6, 843]}, "axis": {"values": [0.001,0.002,0.003,0.004,0.005,0.006,0.007,0.008,0.009,0.01,0.02,0.03,0.04,0.05,0.06,0.07,0.08,0.09,0.1,0.2,0.3,0.4,0.5,0.6,0.7,0.8,0.9,1,2,3,4,5,6,7,8,9,10], "labelExpr": "abs(log(datum.value)/LN10 - round(log(datum.value)/LN10)) < 0.001 ? ('1E' + (round(log(datum.value)/LN10) >= 0 ? '+' : '') + round(log(datum.value)/LN10)) : ''", "labelOverlap": false, "title": null, "gridColor": "#8c8c8c", "gridWidth": 1.2}},
       "y": {"field": "z", "type": "quantitative", "scale": {"domain": [0, 1], "nice": false, "zero": false}, "axis": {"values": [0,0.1,0.2,0.3,0.4,0.5,0.6,0.7,0.8,0.9,1], "labelExpr": "round(datum.value*10) % 2 == 0 ? format(datum.value, '.1f') : ''", "labelOverlap": false, "labelPadding": 9, "title": "Zth(j-c)/Rth(j-c)", "titleFontSize": 31, "titleAngle": 0, "titleAlign": "left", "titleBaseline": "alphabetic", "titleX": 6, "titleY": -39, "gridColor": "#8c8c8c", "gridWidth": 1.2}},
       "detail": {"field": "s"}}},
    {"data": {"name": "f5labels"}, "mark": {"type": "text", "align": "center", "baseline": "middle", "fontSize": 17.5, "color": "white", "stroke": "white", "strokeWidth": 12, "strokeJoin": "round"},
     "encoding": {"x": {"field": "t", "type": "quantitative", "scale": {"type": "log", "domain": [0.001, 10], "nice": false, "range": [6, 843]}}, "y": {"field": "z", "type": "quantitative", "scale": {"domain": [0, 1], "nice": false, "zero": false}}, "text": {"field": "label"}}},
    {"data": {"name": "f5labels"}, "mark": {"type": "text", "align": "center", "baseline": "middle", "fontSize": 17.5, "color": "black"},
     "encoding": {"x": {"field": "t", "type": "quantitative", "scale": {"type": "log", "domain": [0.001, 10], "nice": false, "range": [6, 843]}}, "y": {"field": "z", "type": "quantitative", "scale": {"domain": [0, 1], "nice": false, "zero": false}}, "text": {"field": "label"}}},
    {"data": {"values": [{"t": 0.098, "z": 0.064, "label": "tp(s)"}]}, "mark": {"type": "text", "align": "center", "baseline": "middle", "fontSize": 34, "fontWeight": "bold", "color": "white", "stroke": "white", "strokeWidth": 14, "strokeJoin": "round"},
     "encoding": {"x": {"field": "t", "type": "quantitative", "scale": {"type": "log", "domain": [0.001, 10], "nice": false, "range": [6, 843]}}, "y": {"field": "z", "type": "quantitative", "scale": {"domain": [0, 1], "nice": false, "zero": false}}, "text": {"field": "label"}}},
    {"data": {"values": [{"t": 0.098, "z": 0.064, "label": "tp(s)"}]}, "mark": {"type": "text", "align": "center", "baseline": "middle", "fontSize": 34, "fontWeight": "bold", "color": "black"},
     "encoding": {"x": {"field": "t", "type": "quantitative", "scale": {"type": "log", "domain": [0.001, 10], "nice": false, "range": [6, 843]}}, "y": {"field": "z", "type": "quantitative", "scale": {"domain": [0, 1], "nice": false, "zero": false}}, "text": {"field": "label"}}}
  ]},
  {"width": 159, "height": 437, "data": {"values": []}, "mark": "point", "encoding": {}},
  {"width": 845, "height": 437, "layer": [
    {"data": {"name": "f6curves"}, "mark": {"type": "line", "color": "black", "strokeWidth": 6.5, "interpolate": "monotone"},
     "encoding": {
       "x": {"field": "D", "type": "quantitative", "scale": {"domain": [0, 500], "nice": false, "zero": false, "range": [11, 842]}, "axis": {"values": [0,50,100,150,200,250,300,350,400,450,500], "labelExpr": "datum.value % 100 == 0 ? format(datum.value, 'd') : ''", "labelOverlap": false, "title": null}},
       "y": {"field": "T", "type": "quantitative", "scale": {"domain": [0, 400], "nice": false, "zero": false}, "axis": {"values": [0,25,50,75,100,125,150,175,200,225,250,275,300,325,350,375,400], "labelExpr": "datum.value % 50 == 0 ? format(datum.value, 'd') : ''", "labelOverlap": false, "labelPadding": 4, "title": "trr(ns)", "titleAngle": 0, "titleAlign": "left", "titleBaseline": "alphabetic", "titleX": 11, "titleY": -39}},
       "detail": {"field": "c"}}},
    {"data": {"name": "f6labels"}, "mark": {"type": "text", "align": "center", "baseline": "middle", "fontSize": 23, "color": "white", "stroke": "white", "strokeWidth": 16, "strokeJoin": "round"},
     "encoding": {"x": {"field": "D", "type": "quantitative", "scale": {"domain": [0, 500], "nice": false, "zero": false, "range": [11, 842]}}, "y": {"field": "T", "type": "quantitative", "scale": {"domain": [0, 400], "nice": false, "zero": false}}, "text": {"field": "label"}}},
    {"data": {"name": "f6labels"}, "mark": {"type": "text", "align": "center", "baseline": "middle", "fontSize": 23, "color": "black"},
     "encoding": {"x": {"field": "D", "type": "quantitative", "scale": {"domain": [0, 500], "nice": false, "zero": false, "range": [11, 842]}}, "y": {"field": "T", "type": "quantitative", "scale": {"domain": [0, 400], "nice": false, "zero": false}}, "text": {"field": "label"}}},
    {"data": {"values": [{"D": 248.5, "T": 22, "label": "dIF/dt(A/µs)"}]}, "mark": {"type": "text", "align": "center", "baseline": "middle", "fontSize": 34, "fontWeight": "bold", "color": "white", "stroke": "white", "strokeWidth": 14, "strokeJoin": "round"},
     "encoding": {"x": {"field": "D", "type": "quantitative", "scale": {"domain": [0, 500], "nice": false, "zero": false, "range": [11, 842]}}, "y": {"field": "T", "type": "quantitative", "scale": {"domain": [0, 400], "nice": false, "zero": false}}, "text": {"field": "label"}}},
    {"data": {"values": [{"D": 248.5, "T": 22, "label": "dIF/dt(A/µs)"}]}, "mark": {"type": "text", "align": "center", "baseline": "middle", "fontSize": 34, "fontWeight": "bold", "color": "black"},
     "encoding": {"x": {"field": "D", "type": "quantitative", "scale": {"domain": [0, 500], "nice": false, "zero": false, "range": [11, 842]}}, "y": {"field": "T", "type": "quantitative", "scale": {"domain": [0, 400], "nice": false, "zero": false}}, "text": {"field": "label"}}}
  ]},

  {"width": 54, "height": 202, "data": {"values": []}, "mark": "point", "encoding": {}},
  {"width": 865, "height": 202, "data": {"values": []}, "mark": "point", "encoding": {}},
  {"width": 159, "height": 202, "data": {"values": []}, "mark": "point", "encoding": {}},
  {"width": 845, "height": 202, "data": {"values": []}, "mark": "point", "encoding": {}},

  {"width": 54, "height": 80, "layer": [
    {"data": {"values": [{"a": 0, "b": 1}]}, "mark": {"type": "rule", "color": "black", "strokeWidth": 3}, "encoding": {"x": {"field": "a", "type": "quantitative", "scale": {"domain": [0, 1], "range": [0, 1949]}, "axis": null}, "x2": {"field": "b"}, "y": {"datum": 0, "type": "quantitative", "scale": {"domain": [0, 1]}, "axis": null}}},
    {"data": {"values": [{"t": "3/10"}]}, "mark": {"type": "text", "align": "right", "baseline": "alphabetic", "fontSize": 34, "color": "black", "dy": -14}, "encoding": {"x": {"datum": 1, "type": "quantitative", "scale": {"domain": [0, 1], "range": [0, 1949]}, "axis": null}, "y": {"datum": 0, "type": "quantitative", "scale": {"domain": [0, 1]}, "axis": null}, "text": {"field": "t"}}},
    {"data": {"values": [{"t": "ST"}]}, "mark": {"type": "text", "align": "left", "baseline": "alphabetic", "fontSize": 72, "fontWeight": "bold", "fontStyle": "italic", "color": "black", "dy": -13}, "encoding": {"x": {"datum": 0, "type": "quantitative", "scale": {"domain": [0, 1], "range": [0, 1949]}, "axis": null}, "y": {"datum": 0, "type": "quantitative", "scale": {"domain": [0, 1]}, "axis": null}, "text": {"field": "t"}}}
  ]},
  {"width": 865, "height": 80, "data": {"values": []}, "mark": "point", "encoding": {}},
  {"width": 159, "height": 80, "data": {"values": []}, "mark": "point", "encoding": {}},
  {"width": 845, "height": 80, "data": {"values": []}, "mark": "point", "encoding": {}}
]
}
